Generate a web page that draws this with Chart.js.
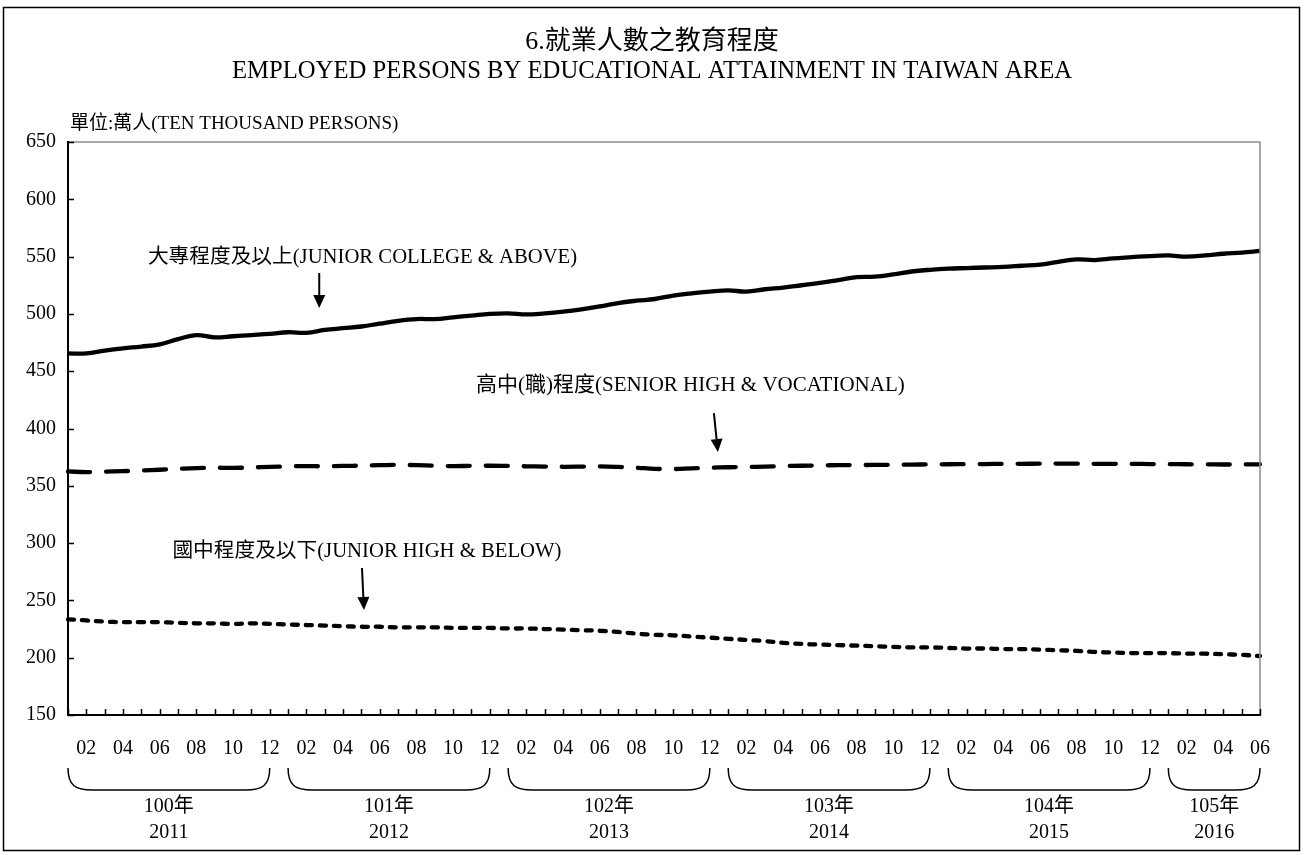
<!DOCTYPE html>
<html><head><meta charset="utf-8">
<script src="https://cdn.jsdelivr.net/npm/chart.js@4"></script>
<style>html,body{margin:0;padding:0;background:#fff;}canvas{display:block;}</style>
</head><body>
<canvas id="c" width="1304" height="855"></canvas>
<script>
// ---- data ----
const monthTicks = [
 '01','02','03','04','05','06','07','08','09','10','11','12',
 '01','02','03','04','05','06','07','08','09','10','11','12',
 '01','02','03','04','05','06','07','08','09','10','11','12',
 '01','02','03','04','05','06','07','08','09','10','11','12',
 '01','02','03','04','05','06','07','08','09','10','11','12',
 '01','02','03','04','05','06'];
const yearsROC = ['100年','101年','102年','103年','104年','105年'];
const yearsAD  = ['2011','2012','2013','2014','2015','2016'];
const yTicks = [150,200,250,300,350,400,450,500,550,600,650];

const collegeAbove = [
 465.5,465.5,468,470,471.5,473.5,478,481.5,479.5,480.5,481.5,482.5,
 484,483.5,486,487.5,489,491.5,494,495.5,495.5,497,498.5,500,
 500.5,499.5,500.5,502,504,506.5,509.5,511.5,513,516,518,519.5,
 520.5,519.5,521.5,523,525,527,529.5,532,532.5,534.5,537,538.5,
 539.5,540,540.5,541,542,543,545.5,547.5,547,548.5,549.5,550.5,
 551,550,551,552.5,553.5,555];
const seniorHigh = [
 362.5,362,362.3,362.8,363.3,364,364.8,365.5,365.8,365.6,366,366.5,
 367,367.2,367,367.3,367.6,368,368.3,368,367.5,367.2,367.4,367.5,
 367.3,367,366.8,366.6,366.7,366.9,366.5,365.8,364.8,364.6,365.2,365.8,
 366.2,366.4,366.8,367.2,367.5,367.8,368,368.1,368.2,368.3,368.5,368.7,
 368.8,368.9,369,369.1,369.2,369.3,369.4,369.3,369.2,369.2,369.1,369,
 368.9,368.8,368.7,368.6,368.6,368.7];
const juniorHighBelow = [
 233.5,232.5,231.5,231,231,231,230.5,230,230,229.5,230,229.5,
 229,228.5,228,227.5,227,227,226.5,226.5,226.5,226,226,226,
 225.5,225.5,225,224.5,224,223.5,222.5,221,220,219.5,218.5,217.5,
 216.5,215.5,214.5,213,212,211.5,211,210.5,210,209.5,209,209,
 208.5,208,208,207.5,207.5,207,206.5,206,205,204.5,204,204,
 204,203.5,203.5,203,202.5,201.5];

const titleZh = '6.就業人數之教育程度';
const titleEn = 'EMPLOYED PERSONS BY EDUCATIONAL ATTAINMENT IN TAIWAN AREA';
const unitText = '單位:萬人(TEN THOUSAND PERSONS)';
const notes = [
 {text:'大專程度及以上(JUNIOR COLLEGE & ABOVE)', size:20.7, tx:16.06, ty:548.8, ax1:13.7, ay1:535.7, ax2:13.7, ay2:505.1},
 {text:'高中(職)程度(SENIOR HIGH & VOCATIONAL)', size:21, tx:33.94, ty:437.1, ax1:35.22, ay1:413.5, ax2:35.44, ay2:379.5},
 {text:'國中程度及以下(JUNIOR HIGH & BELOW)', size:20.7, tx:16.3, ty:292.2, ax1:16.03, ay1:278.3, ax2:16.14, ay2:241.6}
];

const FONT = "'Liberation Serif','Noto Sans CJK TC',serif";
Chart.defaults.font.family = FONT;
Chart.defaults.color = '#000';

function xAt(scale, v){ // fractional index
  const i0 = Math.floor(v), f = v - i0;
  const p0 = scale.getPixelForValue(i0), p1 = scale.getPixelForValue(Math.min(i0+1, monthTicks.length-1));
  return p0 + (p1-p0)*f;
}

const deco = {
  id:'deco',
  afterDraw(chart){
    const {ctx, chartArea:a, scales:{x,y}} = chart;
    ctx.save();
    // outer frame
    ctx.strokeStyle='#000'; ctx.lineWidth=1.5;
    ctx.strokeRect(3.5,7.5,1296,843);
    // plot top/right border
    ctx.strokeStyle='#8c8c8c'; ctx.lineWidth=1.5;
    ctx.beginPath(); ctx.moveTo(a.left,a.top); ctx.lineTo(a.right,a.top); ctx.lineTo(a.right,a.bottom); ctx.stroke();
    // axes
    ctx.strokeStyle='#000'; ctx.lineWidth=2;
    ctx.beginPath(); ctx.moveTo(a.left,a.top-1); ctx.lineTo(a.left,a.bottom); ctx.lineTo(a.right+1,a.bottom); ctx.stroke();
    // inward ticks
    ctx.lineWidth=1.5;
    ctx.beginPath();
    yTicks.forEach(v=>{const py=Math.round(y.getPixelForValue(v))+0.5; ctx.moveTo(a.left,py); ctx.lineTo(a.left+6,py);});
    monthTicks.forEach((m,i)=>{const px=Math.round(x.getPixelForValue(i))+0.5; ctx.moveTo(px,a.bottom); ctx.lineTo(px,a.bottom-6);});
    ctx.stroke();
    // year brackets
    let starts=[]; monthTicks.forEach((m,i)=>{ if(m==='01') starts.push(i); });
    ctx.lineWidth=1.5; ctx.fillStyle='#000';
    ctx.font = "20px "+FONT; ctx.textAlign='center'; ctx.textBaseline='middle';
    starts.forEach((s,k)=>{
      const e = (k+1<starts.length? starts[k+1]-1 : monthTicks.length-1);
      const xl = x.getPixelForValue(s), xr = x.getPixelForValue(e);
      const top=a.bottom+53, bot=a.bottom+75;
      ctx.beginPath();
      ctx.moveTo(xl,top);
      ctx.bezierCurveTo(xl,bot-4,xl+8,bot,xl+24,bot);
      ctx.lineTo(xr-24,bot);
      ctx.bezierCurveTo(xr-8,bot,xr,bot-4,xr,top);
      ctx.stroke();
      const cx=(xl+xr)/2;
      ctx.fillText(yearsROC[k],cx,a.bottom+92);
      ctx.fillText(yearsAD[k],cx,a.bottom+118);
    });
    // titles
    ctx.font = "26px "+FONT;
    ctx.fillText(titleZh, chart.width/2, 42);
    ctx.font = "24.7px "+FONT;
    ctx.fillText(titleEn, chart.width/2, 72);
    ctx.font = "19px "+FONT; ctx.textAlign='left';
    ctx.fillText(unitText, a.left+2, 124);
    // annotations
    ctx.textAlign='center';
    notes.forEach(n=>{
      ctx.font = n.size+"px "+FONT;
      ctx.fillText(n.text, xAt(x,n.tx), y.getPixelForValue(n.ty));
      const x1=xAt(x,n.ax1), y1=y.getPixelForValue(n.ay1), x2=xAt(x,n.ax2), y2=y.getPixelForValue(n.ay2);
      const ang=Math.atan2(y2-y1,x2-x1), hl=13, hw=6;
      const bx=x2-hl*Math.cos(ang), by=y2-hl*Math.sin(ang);
      ctx.lineWidth=2;
      ctx.beginPath(); ctx.moveTo(x1,y1); ctx.lineTo(bx,by); ctx.stroke();
      ctx.beginPath(); ctx.moveTo(x2,y2);
      ctx.lineTo(bx+hw*Math.sin(ang), by-hw*Math.cos(ang));
      ctx.lineTo(bx-hw*Math.sin(ang), by+hw*Math.cos(ang));
      ctx.closePath(); ctx.fill();
    });
    ctx.restore();
  }
};

const common = {borderColor:'#000', backgroundColor:'#000', borderWidth:4.3, pointRadius:0, tension:0.4, fill:false};
new Chart(document.getElementById('c'), {
  type:'line',
  data:{labels: monthTicks, datasets:[
    Object.assign({label:'大專程度及以上', data:collegeAbove}, common),
    Object.assign({label:'高中(職)程度', data:seniorHigh, borderDash:[22,16], borderCapStyle:'round'}, common),
    Object.assign({label:'國中程度及以下', data:juniorHighBelow, borderDash:[6,8], borderCapStyle:'round'}, common)
  ]},
  options:{
    responsive:false, animation:false, devicePixelRatio:1,
    layout:{padding:{left:0, top:142, right:44, bottom:0}},
    plugins:{legend:{display:false}, tooltip:{enabled:false}, title:{display:false}},
    scales:{
      x:{ type:'category', offset:false, grid:{display:false, drawTicks:false}, border:{display:false},
          ticks:{autoSkip:false, maxRotation:0, minRotation:0, padding:22, font:{size:20},
                 callback:(v,i)=> (parseInt(monthTicks[i],10)%2===0 ? monthTicks[i] : '')},
          afterFit:(s)=>{ s.height = 140; } },
      y:{ min:150, max:650, grid:{display:false, drawTicks:false}, border:{display:false},
          ticks:{stepSize:50, padding:12, font:{size:20}},
          afterFit:(s)=>{ s.width = 68; } }
    }
  },
  plugins:[deco]
});
</script>
</body></html>
